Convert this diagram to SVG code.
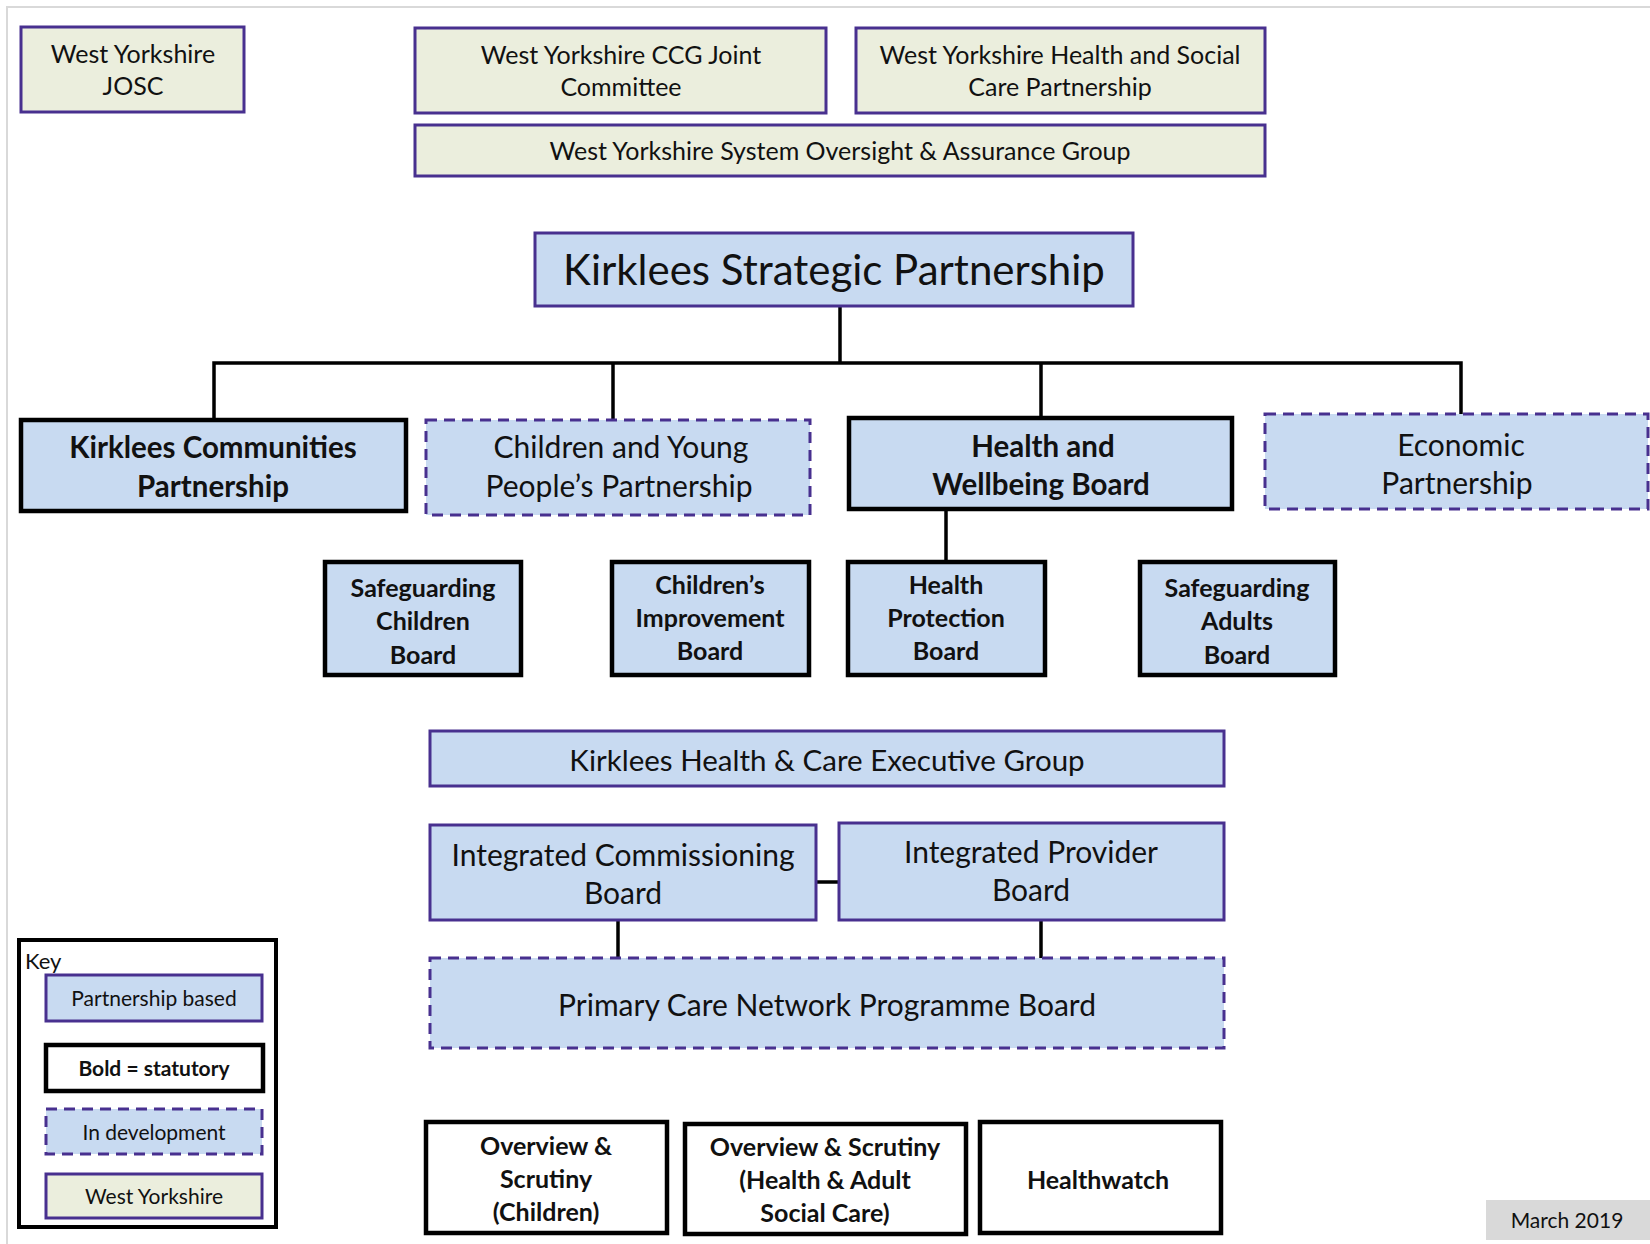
<svg xmlns="http://www.w3.org/2000/svg" width="1650" height="1244" viewBox="0 0 1650 1244">
<style>
text{font-family:Lato,"Liberation Sans",sans-serif;fill:#111;text-anchor:middle}
.wy{fill:#ebeedd;stroke:#48308f;stroke-width:3}
.pb{fill:#c8daf1;stroke:#48308f;stroke-width:3}
.dev{fill:#c8daf1;stroke:#48308f;stroke-width:3;stroke-dasharray:11 7}
.st{fill:#c8daf1;stroke:#000;stroke-width:4.5}
.stw{fill:#fff;stroke:#000;stroke-width:4.5}
.b{font-weight:bold}
.conn{stroke:#000;stroke-width:3.5;fill:none}
</style>
<rect width="1650" height="1244" fill="#fff"/>
<path d="M7 1244V7H1650" fill="none" stroke="#d9d9d9" stroke-width="2"/>

<g id="connectors">
<path class="conn" d="M840 306V363"/>
<path class="conn" d="M214 420V363H1461V414"/>
<path class="conn" d="M613 363V420"/>
<path class="conn" d="M1041 363V418"/>
<path class="conn" d="M946 509V562"/>
<path class="conn" d="M816 882H839" stroke-width="5"/>
<path class="conn" d="M618 920V958"/>
<path class="conn" d="M1041 920V958"/>
</g>

<g id="wy-josc"><rect class="wy" x="21" y="27" width="223" height="85"/>
<text x="133" y="63" font-size="25">West Yorkshire</text><text x="133" y="95" font-size="25">JOSC</text></g>

<g id="wy-ccg"><rect class="wy" x="415" y="28" width="411" height="85"/>
<text x="621" y="64" font-size="25">West Yorkshire CCG Joint</text><text x="621" y="96" font-size="25">Committee</text></g>

<g id="wy-hscp"><rect class="wy" x="856" y="28" width="409" height="85"/>
<text x="1060" y="64" font-size="25">West Yorkshire Health and Social</text><text x="1060" y="96" font-size="25">Care Partnership</text></g>

<g id="wy-soag"><rect class="wy" x="415" y="125" width="850" height="51"/>
<text x="840" y="160" font-size="25">West Yorkshire System Oversight &amp; Assurance Group</text></g>

<g id="ksp"><rect class="pb" x="535" y="233" width="598" height="73"/>
<text x="834" y="285" font-size="42">Kirklees Strategic Partnership</text></g>

<g id="kcp"><rect class="st" x="21" y="420" width="385" height="91"/>
<text class="b" x="213" y="458" font-size="29.5">Kirklees Communities</text><text class="b" x="213" y="497" font-size="29.5">Partnership</text></g>

<g id="cypp"><rect class="dev" x="426" y="420" width="384" height="95"/>
<text x="621" y="458" font-size="30">Children and Young</text><text x="619" y="497" font-size="30">People’s Partnership</text></g>

<g id="hwb"><rect class="st" x="849" y="418" width="383" height="91"/>
<text class="b" x="1043" y="457" font-size="29.5">Health and</text><text class="b" x="1041" y="495" font-size="29.5">Wellbeing Board</text></g>

<g id="ep"><rect class="dev" x="1265" y="414" width="383" height="95"/>
<text x="1461" y="456" font-size="30">Economic</text><text x="1457" y="494" font-size="30">Partnership</text></g>

<g id="scb"><rect class="st" x="325" y="562" width="196" height="113"/>
<text class="b" x="423" y="597" font-size="25">Safeguarding</text><text class="b" x="423" y="630" font-size="25">Children</text><text class="b" x="423" y="664" font-size="25">Board</text></g>

<g id="cib"><rect class="st" x="612" y="562" width="197" height="113"/>
<text class="b" x="710" y="594" font-size="25">Children’s</text><text class="b" x="710" y="627" font-size="25">Improvement</text><text class="b" x="710" y="660" font-size="25">Board</text></g>

<g id="hpb"><rect class="st" x="848" y="562" width="197" height="113"/>
<text class="b" x="946" y="594" font-size="25">Health</text><text class="b" x="946" y="627" font-size="25">Protection</text><text class="b" x="946" y="660" font-size="25">Board</text></g>

<g id="sab"><rect class="st" x="1140" y="562" width="195" height="113"/>
<text class="b" x="1237" y="597" font-size="25">Safeguarding</text><text class="b" x="1237" y="630" font-size="25">Adults</text><text class="b" x="1237" y="664" font-size="25">Board</text></g>

<g id="khceg"><rect class="pb" x="430" y="731" width="794" height="55"/>
<text x="827" y="771" font-size="29.5">Kirklees Health &amp; Care Executive Group</text></g>

<g id="icb"><rect class="pb" x="430" y="825" width="386" height="95"/>
<text x="623" y="866" font-size="30">Integrated Commissioning</text><text x="623" y="904" font-size="30">Board</text></g>

<g id="ipb"><rect class="pb" x="839" y="823" width="385" height="97"/>
<text x="1031" y="863" font-size="30">Integrated Provider</text><text x="1031" y="901" font-size="30">Board</text></g>

<g id="pcn"><rect class="dev" x="430" y="958" width="794" height="90"/>
<text x="827" y="1016" font-size="30">Primary Care Network Programme Board</text></g>

<g id="key"><rect x="19" y="940" width="257" height="287" fill="#fff" stroke="#000" stroke-width="4"/>
<text x="25" y="969" font-size="22" style="text-anchor:start">Key</text>
<rect class="pb" x="46" y="975" width="216" height="46"/><text x="154" y="1006" font-size="21">Partnership based</text>
<rect class="stw" x="46" y="1045" width="217" height="46"/><text class="b" x="154" y="1076" font-size="21">Bold = statutory</text>
<rect class="dev" x="46" y="1109" width="216" height="45"/><text x="154" y="1140" font-size="21">In development</text>
<rect class="wy" x="46" y="1174" width="216" height="44"/><text x="154" y="1204" font-size="21">West Yorkshire</text></g>

<g id="os-children"><rect class="stw" x="426" y="1122" width="241" height="111"/>
<text class="b" x="546" y="1155" font-size="25">Overview &amp;</text><text class="b" x="546" y="1188" font-size="25">Scrutiny</text><text class="b" x="546" y="1221" font-size="25">(Children)</text></g>

<g id="os-health"><rect class="stw" x="685" y="1124" width="281" height="110"/>
<text class="b" x="825" y="1156" font-size="25">Overview &amp; Scrutiny</text><text class="b" x="825" y="1189" font-size="25">(Health &amp; Adult</text><text class="b" x="825" y="1222" font-size="25">Social Care)</text></g>

<g id="healthwatch"><rect class="stw" x="980" y="1122" width="241" height="111"/>
<text class="b" x="1098" y="1189" font-size="25">Healthwatch</text></g>

<g id="date"><rect x="1486" y="1200" width="164" height="40" fill="#d9d9d9"/>
<text x="1567" y="1228" font-size="21">March 2019</text></g>
</svg>
